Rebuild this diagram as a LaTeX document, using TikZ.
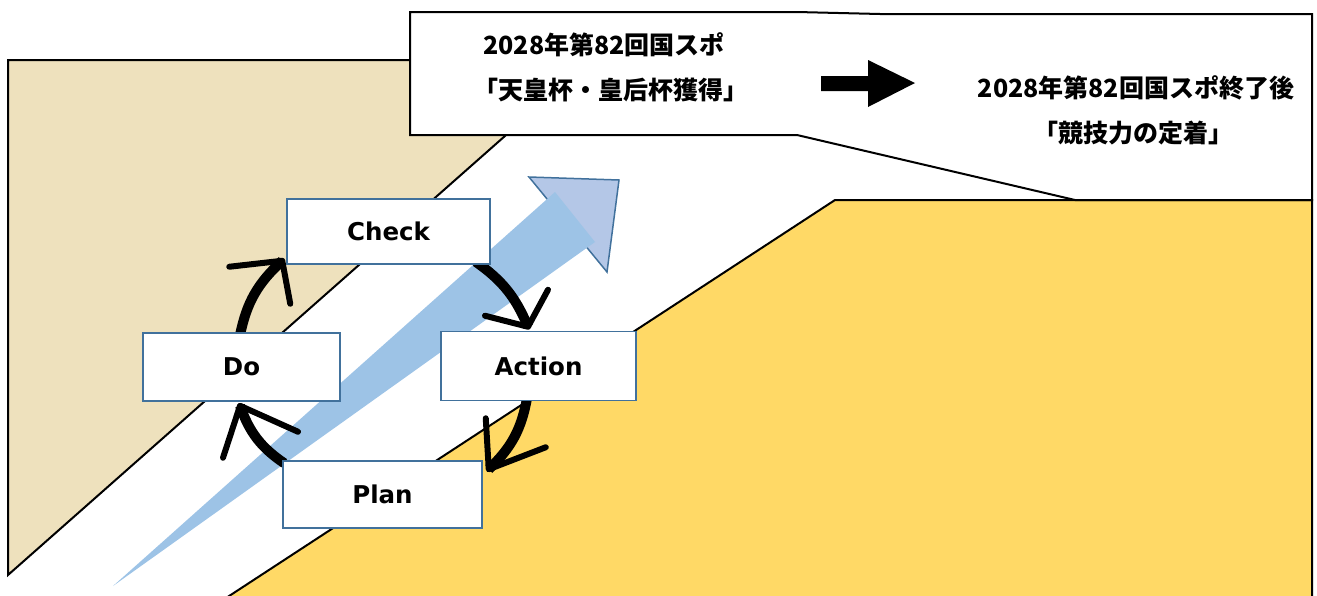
\documentclass[tikz,border=0pt]{standalone}
\usepackage{fontspec}
\usetikzlibrary{calc}
\newfontfamily\jpfont{Noto Sans CJK JP}
\newfontfamily\lblfont{DejaVu Sans}
\definecolor{boxblue}{RGB}{65,113,156}
\definecolor{beige}{RGB}{238,225,189}
\definecolor{gold}{RGB}{255,217,102}
\definecolor{bodyblue}{RGB}{157,195,230}
\definecolor{headblue}{RGB}{180,199,231}
\pgfdeclarelayer{back}
\pgfdeclarelayer{mid}
\pgfsetlayers{back,mid,main}
\begin{document}
\begin{tikzpicture}[x=1pt,y=-1pt,
  pbox/.style={draw=boxblue, line width=1.5pt, fill=white, inner sep=0pt,
    font=\lblfont\bfseries\fontsize{24.5}{28}\selectfont},
  cyc/.style={line width=10pt, draw=black},
  barb/.style={line width=6pt, line cap=round, line join=round, draw=black},
  jp/.style={font=\jpfont\bfseries\fontsize{25}{28}\selectfont, inner sep=0pt, text=black},
  outl/.style={line width=2pt, draw=black}]
\useasboundingbox (0,0) rectangle (1317,595);
\clip (0,0) rectangle (1317,595);

% PDCA boxes
\node[pbox, minimum width=203pt, minimum height=65pt] (Check) at (388.5,231.5) {Check};
\node[pbox, minimum width=197pt, minimum height=68pt] (Do) at (241.5,367) {Do};
\node[pbox, minimum width=195pt, minimum height=69pt] (Action) at (538.5,366) {Action};
\node[pbox, minimum width=199pt, minimum height=67pt] (Plan) at (382.5,494.5) {Plan};

\begin{pgfonlayer}{back}
  % beige slope
  \filldraw[outl, fill=beige] (8,60) -- (591,60) -- (8,575) -- cycle;
  % yellow slope
  \fill[gold] (223,600) -- (835,200) -- (1312,200) -- (1312,600) -- cycle;
  \draw[outl] (223,600) -- (835,200) -- (1312,200) -- (1312,600);
  % callout
  \filldraw[outl, fill=white, line join=miter] (410,12) -- (797,12) -- (880,14) -- (1312,14)
    -- (1312,200) -- (1075,200) -- (797,135) -- (410,135) -- cycle;
  \node[jp] (t1) at (604,45) {2028年第82回国スポ};
  \node[jp] (t2) at (611,90) {「天皇杯・皇后杯獲得」};
  \node[jp] (t3) at (1136,88) {2028年第82回国スポ終了後};
  \node[jp] (t4) at (1133,133) {「競技力の定着」};
  % black block arrow
  \fill[black] (821,76) -- (868,76) -- (868,60) -- (915,83) -- (868,107) -- (868,91) -- (821,91) -- cycle;
  % blue rising arrow
  \filldraw[fill=headblue, draw=boxblue, line width=1.5pt, line join=miter] (529,177) -- (619,180) -- (607,272) -- cycle;
  \fill[bodyblue] (113,586) -- (555,192) -- (595,242) -- cycle;
\end{pgfonlayer}

\begin{pgfonlayer}{mid}
  \coordinate (s1) at ($(Do.north)+(-1.5,3)$);
  \coordinate (e1) at ($(Check.south west)+(-4,-4)$);
  \coordinate (s2) at ($(Check.south east)+(-15,-3)$);
  \coordinate (e2) at ($(Action.north)+(-10.5,-4)$);
  \coordinate (s3) at ($(Action.south)+(-11.5,-3)$);
  \coordinate (e3) at ($(Plan.north east)+(6,9)$);
  \coordinate (s4) at ($(Plan.north west)+(2,3)$);
  \coordinate (e4) at ($(Do.south)+(-1.5,4)$);
  \draw[cyc] (s1) to[bend left=18] (e1);
  \draw[cyc] (s2) to[bend left=16] (e2);
  \draw[cyc] (s3) to[bend left=18] (e3);
  \draw[cyc] (s4) to[bend left=18] (e4);
  \draw[barb] ($(e1)+(-53,6)$) -- (e1) -- ($(e1)+(8,43)$);
  \draw[barb] ($(e2)+(-43,-11)$) -- (e2) -- ($(e2)+(20,-37)$);
  \draw[barb] ($(e3)+(-3,-51)$) -- (e3) -- ($(e3)+(57,-22)$);
  \draw[barb] ($(e4)+(-17,52)$) -- (e4) -- ($(e4)+(58,26)$);
\end{pgfonlayer}
\end{tikzpicture}
\end{document}
